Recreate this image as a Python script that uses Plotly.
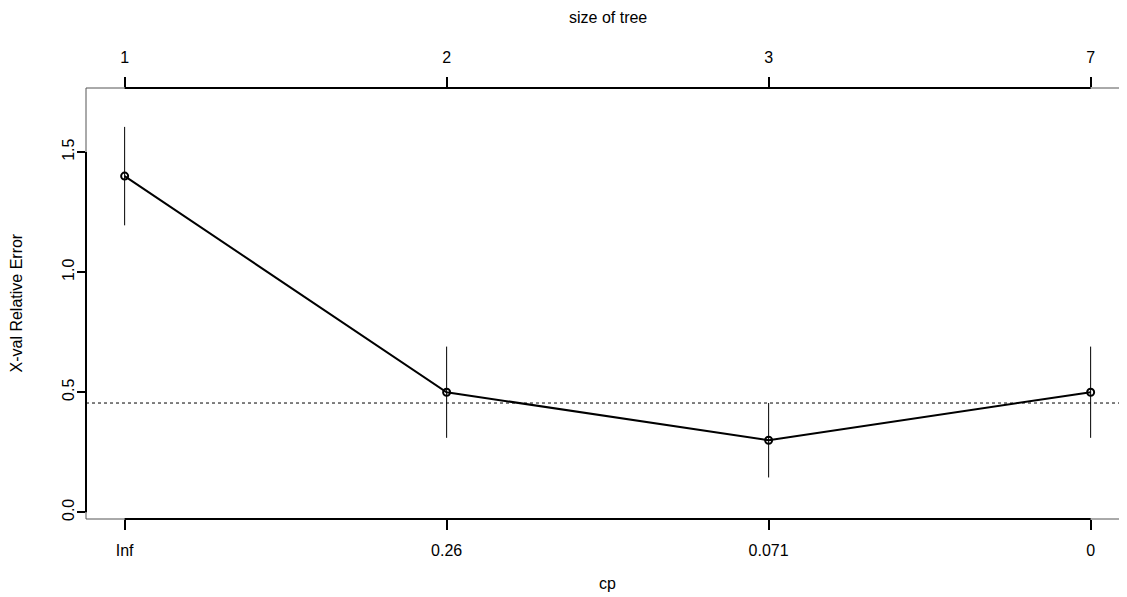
import plotly.graph_objects as go

cp_labels = ["Inf", "0.26", "0.071", "0"]
tree_sizes = ["1", "2", "3", "7"]
xerror = [1.4, 0.5, 0.3, 0.5]
xstd = [0.205, 0.19, 0.155, 0.19]

pos = [1, 2, 3, 4]
imin = xerror.index(min(xerror))
threshold = xerror[imin] + xstd[imin]

FONT = "Liberation Sans, Arial, sans-serif"
FS = 16
fig = go.Figure()

fig.add_trace(go.Scatter(
    x=pos, y=xerror, mode="lines+markers",
    line=dict(color="black", width=2),
    marker=dict(symbol="circle-open", size=7, color="black", line=dict(width=2)),
    error_y=dict(type="data", array=xstd, visible=True, color="black", thickness=1, width=0),
    showlegend=False, hoverinfo="skip",
))
fig.add_trace(go.Scatter(x=pos, y=xerror, xaxis="x2", mode="markers",
                         marker=dict(opacity=0), showlegend=False, hoverinfo="skip"))

W, H = 1119, 589
ML, MT, MB = 78, 80, 78
xr = [0.88, 0.88 + (W - ML) / 322.0]
yr = [-0.028, 1.767]

fig.add_hline(y=threshold, line=dict(color="black", width=1, dash="dot"))

for x0, y0, x1, y1 in [(0, 0, 0, 1), (0, 1, 1, 1), (0, 0, 1, 0)]:
    fig.add_shape(type="line", xref="paper", yref="paper", x0=x0, y0=y0, x1=x1, y1=y1,
                  line=dict(color="#555555", width=1))
fig.add_shape(type="line", xref="x", yref="paper", x0=pos[0], x1=pos[-1], y0=0, y1=0,
              line=dict(color="black", width=2))
fig.add_shape(type="line", xref="x", yref="paper", x0=pos[0], x1=pos[-1], y0=1, y1=1,
              line=dict(color="black", width=2))
fig.add_shape(type="line", xref="paper", yref="y", x0=0, x1=0, y0=0, y1=1.5,
              line=dict(color="black", width=2))

ann = dict(showarrow=False, font=dict(family=FONT, size=FS, color="black"))
xc = (2.5 - xr[0]) / (xr[1] - xr[0])
fig.add_annotation(text="size of tree", xref="paper", yref="paper", x=xc, y=1,
                   yshift=71, xanchor="center", yanchor="middle", **ann)
fig.add_annotation(text="cp", xref="paper", yref="paper", x=xc, y=0,
                   yshift=-64, xanchor="center", yanchor="middle", **ann)
fig.add_annotation(text="X-val Relative Error", xref="paper", yref="paper", x=0, y=0.5,
                   xshift=-70, textangle=-90, xanchor="center", yanchor="middle", **ann)

fig.update_layout(
    width=W, height=H,
    margin=dict(l=ML, r=0, t=MT, b=MB),
    plot_bgcolor="white", paper_bgcolor="white",
    font=dict(family=FONT, size=FS, color="black"),
    xaxis=dict(range=xr, tickvals=pos, ticktext=cp_labels, ticks="outside", ticklen=10,
               tickwidth=2, tickcolor="black", showgrid=False, zeroline=False, showline=False,
               automargin=False, ticklabelstandoff=7, tickfont=dict(size=FS)),
    xaxis2=dict(range=xr, overlaying="x", side="top", tickvals=pos, ticktext=tree_sizes,
                ticks="outside", ticklen=10, tickwidth=2, tickcolor="black", showgrid=False,
                zeroline=False, showline=False, automargin=False, ticklabelstandoff=8,
                tickfont=dict(size=FS)),
    yaxis=dict(range=yr, tickvals=[0, 0.5, 1.0, 1.5], ticktext=["0.0", "0.5", "1.0", "1.5"],
               ticks="outside", ticklen=8, tickwidth=2, tickcolor="black", tickangle=-90,
               showgrid=False, zeroline=False, showline=False, automargin=False,
               ticklabelstandoff=-3, tickfont=dict(size=FS)),
)

fig.write_html("out.html")
